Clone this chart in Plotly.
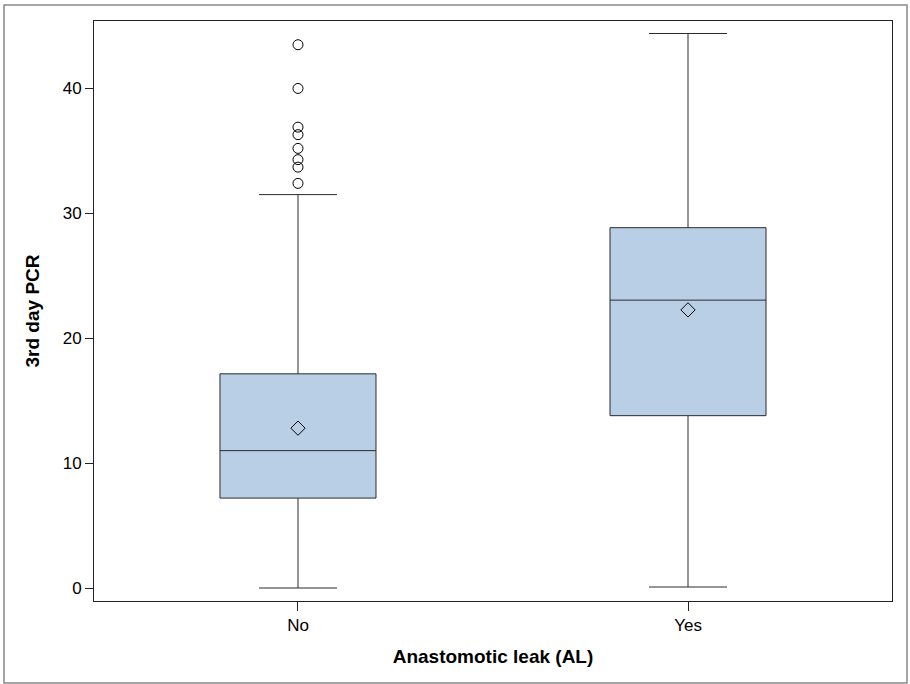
import plotly.graph_objects as go

# Summary statistics of 3rd day PCR by anastomotic leak group
groups = ["No", "Yes"]
q1 = [7.2, 13.8]
median = [11.0, 23.05]
q3 = [17.15, 28.85]
lower_fence = [0.0, 0.08]
upper_fence = [31.5, 44.4]
means = [12.8, 22.27]

# Observations beyond the upper fence in the "No" group
outliers_no = [43.5, 40.0, 36.9, 36.3, 35.2, 34.3, 33.7, 32.4]

FONT = "Arial, Liberation Sans, sans-serif"
FILL = "#b9cfe6"
EDGE = "#2b2b2b"

fig = go.Figure()

fig.add_trace(go.Box(
    x=groups,
    q1=q1, median=median, q3=q3,
    lowerfence=lower_fence, upperfence=upper_fence,
    fillcolor=FILL,
    line=dict(color=EDGE, width=1),
    width=0.4,
    whiskerwidth=0.5,
    boxpoints=False,
    showlegend=False,
    hoverinfo="skip",
))

# Group means
fig.add_trace(go.Scatter(
    x=groups, y=means, mode="markers",
    marker=dict(symbol="diamond-open", size=11, color="black", line=dict(width=1)),
    showlegend=False,
))

# Outliers
fig.add_trace(go.Scatter(
    x=["No"] * len(outliers_no), y=outliers_no, mode="markers",
    marker=dict(symbol="circle-open", size=10, color="black", line=dict(width=1)),
    showlegend=False,
))

fig.update_layout(
    width=910, height=684,
    margin=dict(l=94, r=18, t=21, b=83),
    paper_bgcolor="white",
    plot_bgcolor="white",
    font=dict(family=FONT, size=17, color="black"),
    xaxis=dict(
        range=[-0.523, 1.523],
        showline=True, mirror=True, linecolor="#222", linewidth=1,
        ticks="outside", ticklen=9, tickcolor="#222",
        showgrid=False, zeroline=False,
        tickfont=dict(size=17),
        title=dict(text="<b>Anastomotic leak (AL)</b>", font=dict(size=19), standoff=15),
    ),
    yaxis=dict(
        range=[-1.04, 45.4],
        tickvals=[0, 10, 20, 30, 40],
        showline=True, mirror=True, linecolor="#222", linewidth=1,
        ticks="outside", ticklen=8, tickcolor="#222",
        showgrid=False, zeroline=False,
        tickfont=dict(size=17),
        title=dict(text="<b>3rd day PCR</b>", font=dict(size=19), standoff=18),
    ),
    shapes=[dict(
        type="rect", xref="paper", yref="paper",
        x0=-0.1128, x1=1.0188, y0=-0.1414, y1=1.0276,
        line=dict(color="#888888", width=1.5),
        fillcolor="rgba(0,0,0,0)",
        layer="below",
    )],
)

fig.write_html("out.html")
